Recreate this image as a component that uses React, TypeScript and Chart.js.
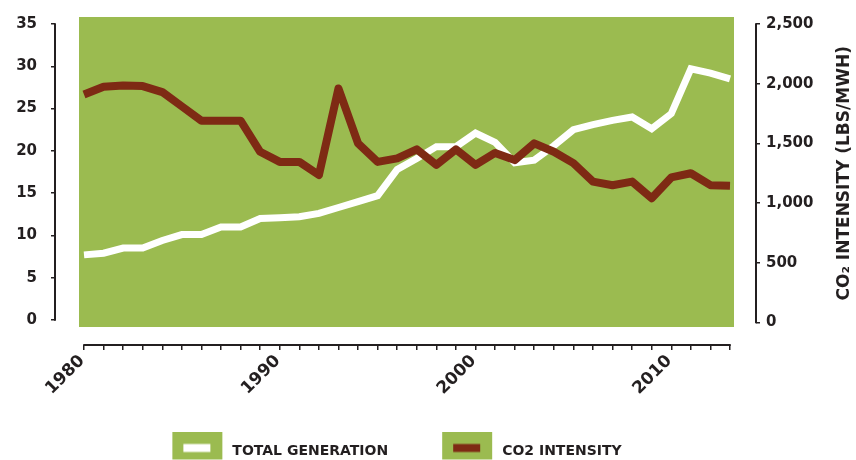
import React, { useEffect, useRef } from 'react';
import { Chart, registerables } from 'chart.js';

Chart.register(...registerables);

// ---- data ----
const YEARS = [
  1980, 1981, 1982, 1983, 1984, 1985, 1986, 1987, 1988, 1989,
  1990, 1991, 1992, 1993, 1994, 1995, 1996, 1997, 1998, 1999,
  2000, 2001, 2002, 2003, 2004, 2005, 2006, 2007, 2008, 2009,
  2010, 2011, 2012, 2013,
];
const TOTAL_GENERATION = [
  7.7, 7.9, 8.5, 8.5, 9.4, 10.1, 10.1, 11.0, 11.0, 12.0,
  12.1, 12.2, 12.6, 13.3, 14.0, 14.7, 17.8, 19.1, 20.5, 20.5,
  22.1, 21.0, 18.6, 18.9, 20.6, 22.5, 23.1, 23.6, 24.0, 22.6,
  24.4, 29.7, 29.2, 28.5,
];
const CO2_INTENSITY = [
  1910, 1975, 1985, 1980, 1930, 1810, 1690, 1690, 1690, 1430,
  1345, 1345, 1235, 1960, 1500, 1345, 1375, 1450, 1320, 1450,
  1320, 1420, 1360, 1500, 1430, 1335, 1180, 1150, 1180, 1040,
  1215, 1250, 1150, 1145,
];
const LEFT_TICKS = [0, 5, 10, 15, 20, 25, 30, 35];
const RIGHT_TICKS = [0, 500, 1000, 1500, 2000, 2500];
const YEAR_LABELS = [1980, 1990, 2000, 2010];
const SERIES_NAMES = ['TOTAL GENERATION', 'CO2 INTENSITY'];
const RIGHT_TITLE = 'CO\u2082 INTENSITY (LBS/MWH)';

// ---- styling ----
const GREEN = '#9bbb50';
const RED = '#7e2a14';
const WHITE = '#ffffff';
const INK = '#231f20';
const FONT = "'DejaVu Sans', sans-serif";

// scale ranges (value space)
const X_RANGE = [1978.519, 2014.328];
const LEFT_RANGE = [-2.956, 35];
const RIGHT_RANGE = [-188.4, 2500];
const PLOT_BG_X = [1979.745, 2013.204];
const PLOT_BG_Y = [-0.828, 35.828];
const LEGEND_SHIFT = -14;

function swatch(color: string): HTMLCanvasElement {
  const c = document.createElement('canvas');
  c.width = 60;
  c.height = 39;
  const g = c.getContext('2d')!;
  g.fillStyle = GREEN;
  g.fillRect(9, 0, 50, 28);
  g.fillStyle = color;
  g.fillRect(20, 12.5, 27, 8);
  return c;
}

const plotBackdrop = {
  id: 'plotBackdrop',
  beforeDatasetsDraw(chart: any) {
    const { ctx, scales } = chart;
    const x = scales.x;
    const y = scales.yL;
    const l = x.getPixelForValue(PLOT_BG_X[0]);
    const r = x.getPixelForValue(PLOT_BG_X[1]);
    const t = y.getPixelForValue(PLOT_BG_Y[1]);
    const b = y.getPixelForValue(PLOT_BG_Y[0]);
    ctx.save();
    ctx.fillStyle = GREEN;
    ctx.fillRect(l, t, r - l, b - t);
    ctx.restore();
  },
};

const legendNudge = {
  id: 'legendNudge',
  afterLayout(chart: any) {
    const lg = chart.legend;
    if (lg) {
      lg.left += LEGEND_SHIFT;
      lg.right += LEGEND_SHIFT;
    }
  },
};

const axisSpines = {
  id: 'axisSpines',
  afterDraw(chart: any) {
    const { ctx, chartArea, scales } = chart;
    const { x, yL, yR } = scales;
    ctx.save();
    ctx.strokeStyle = INK;
    ctx.lineWidth = 2;
    ctx.lineCap = 'butt';
    const seg = (x1: number, y1: number, x2: number, y2: number) => {
      ctx.beginPath();
      ctx.moveTo(x1, y1);
      ctx.lineTo(x2, y2);
      ctx.stroke();
    };
    seg(chartArea.left, yL.getPixelForValue(LEFT_TICKS[0]) + 0.75, chartArea.left, yL.getPixelForValue(LEFT_TICKS[LEFT_TICKS.length - 1]) - 0.75);
    seg(chartArea.right, yR.getPixelForValue(RIGHT_TICKS[0]) + 0.75, chartArea.right, yR.getPixelForValue(RIGHT_TICKS[RIGHT_TICKS.length - 1]) - 0.75);
    seg(x.getPixelForValue(YEARS[0]) - 0.75, chartArea.bottom, x.getPixelForValue(YEARS[YEARS.length - 1]) + 0.75, chartArea.bottom);

    // right-hand axis title, reading bottom-to-top
    const cy = (yR.getPixelForValue(RIGHT_TICKS[0]) + yR.getPixelForValue(RIGHT_TICKS[RIGHT_TICKS.length - 1])) / 2;
    ctx.translate(chartArea.right + 89, cy);
    ctx.rotate(-Math.PI / 2);
    ctx.fillStyle = INK;
    ctx.font = `bold 17px ${FONT}`;
    ctx.textAlign = 'center';
    ctx.textBaseline = 'middle';
    ctx.fillText(RIGHT_TITLE, 0, 0);
    ctx.restore();
  },
};

export default function App() {
  const ref = useRef<HTMLCanvasElement | null>(null);

  useEffect(() => {
    if (!ref.current) return;
    const tickFont = { family: FONT, size: 15, weight: 'bold' as const };
    const yearFont = { family: FONT, size: 17, weight: 'bold' as const };
    const swatches = [swatch(WHITE), swatch(RED)];

    const chart = new Chart(ref.current, {
      type: 'line',
      data: {
        datasets: [
          {
            label: SERIES_NAMES[0],
            data: YEARS.map((yr, i) => ({ x: yr, y: TOTAL_GENERATION[i] })),
            yAxisID: 'yL',
            borderColor: WHITE,
            backgroundColor: WHITE,
            borderWidth: 7,
            pointRadius: 0,
            tension: 0,
            order: 1,
          },
          {
            label: SERIES_NAMES[1],
            data: YEARS.map((yr, i) => ({ x: yr, y: CO2_INTENSITY[i] })),
            yAxisID: 'yR',
            borderColor: RED,
            backgroundColor: RED,
            borderWidth: 8,
            borderJoinStyle: 'round',
            pointRadius: 0,
            tension: 0,
            order: 0,
          },
        ],
      },
      options: {
        responsive: false,
        animation: false,
        devicePixelRatio: 1,
        layout: { padding: { top: 24, left: 0, right: 0, bottom: 0 } },
        events: [],
        plugins: {
          tooltip: { enabled: false },
          legend: {
            display: true,
            position: 'bottom',
            fullSize: false,
            onClick: () => {},
            labels: {
              usePointStyle: true,
              pointStyleWidth: 64,
              padding: 43,
              color: INK,
              font: { family: FONT, size: 14, weight: 'bold' },
              generateLabels: () =>
                SERIES_NAMES.map((name, i) => ({
                  text: name,
                  pointStyle: swatches[i],
                  fillStyle: GREEN,
                  strokeStyle: GREEN,
                  lineWidth: 0,
                  hidden: false,
                  datasetIndex: i,
                  fontColor: INK,
                })),
            },
          },
        },
        scales: {
          x: {
            type: 'linear',
            position: 'bottom',
            min: X_RANGE[0],
            max: X_RANGE[1],
            afterBuildTicks: (s: any) => {
              s.ticks = YEARS.map((v) => ({ value: v }));
            },
            afterFit: (s: any) => {
              s.height = 56;
            },
            border: { display: false },
            grid: {
              drawOnChartArea: false,
              drawTicks: true,
              tickLength: 5,
              color: INK,
              lineWidth: 1.5,
            },
            ticks: {
              autoSkip: false,
              minRotation: 45,
              maxRotation: 45,
              padding: 1,
              labelOffset: -2,
              color: INK,
              font: yearFont,
              callback: (v: any) => (YEAR_LABELS.includes(Number(v)) ? String(v) : ''),
            },
          },
          yL: {
            type: 'linear',
            position: 'left',
            min: LEFT_RANGE[0],
            max: LEFT_RANGE[1],
            afterBuildTicks: (s: any) => {
              s.ticks = LEFT_TICKS.map((v) => ({ value: v }));
            },
            afterFit: (s: any) => {
              s.width = 55;
            },
            border: { display: false },
            grid: {
              drawOnChartArea: false,
              drawTicks: true,
              tickLength: 4,
              color: INK,
              lineWidth: 1.5,
            },
            ticks: {
              padding: 14,
              color: INK,
              font: tickFont,
              callback: (v: any) => String(v),
            },
          },
          yR: {
            type: 'linear',
            position: 'right',
            min: RIGHT_RANGE[0],
            max: RIGHT_RANGE[1],
            afterBuildTicks: (s: any) => {
              s.ticks = RIGHT_TICKS.map((v) => ({ value: v }));
            },
            afterFit: (s: any) => {
              s.width = 100;
            },
            border: { display: false },
            grid: {
              drawOnChartArea: false,
              drawTicks: true,
              tickLength: 4,
              color: INK,
              lineWidth: 1.5,
            },
            ticks: {
              padding: 6,
              color: INK,
              font: tickFont,
              callback: (v: any) => Number(v).toLocaleString('en-US'),
            },
          },
        },
      },
      plugins: [plotBackdrop, legendNudge, axisSpines],
    } as any);

    return () => chart.destroy();
  }, []);

  return (
    <div style={{ position: 'fixed', left: 0, top: 0, width: 856, height: 460, overflow: 'hidden', background: '#fff' }}>
      <canvas ref={ref} width={856} height={468} style={{ display: 'block' }} />
    </div>
  );
}
